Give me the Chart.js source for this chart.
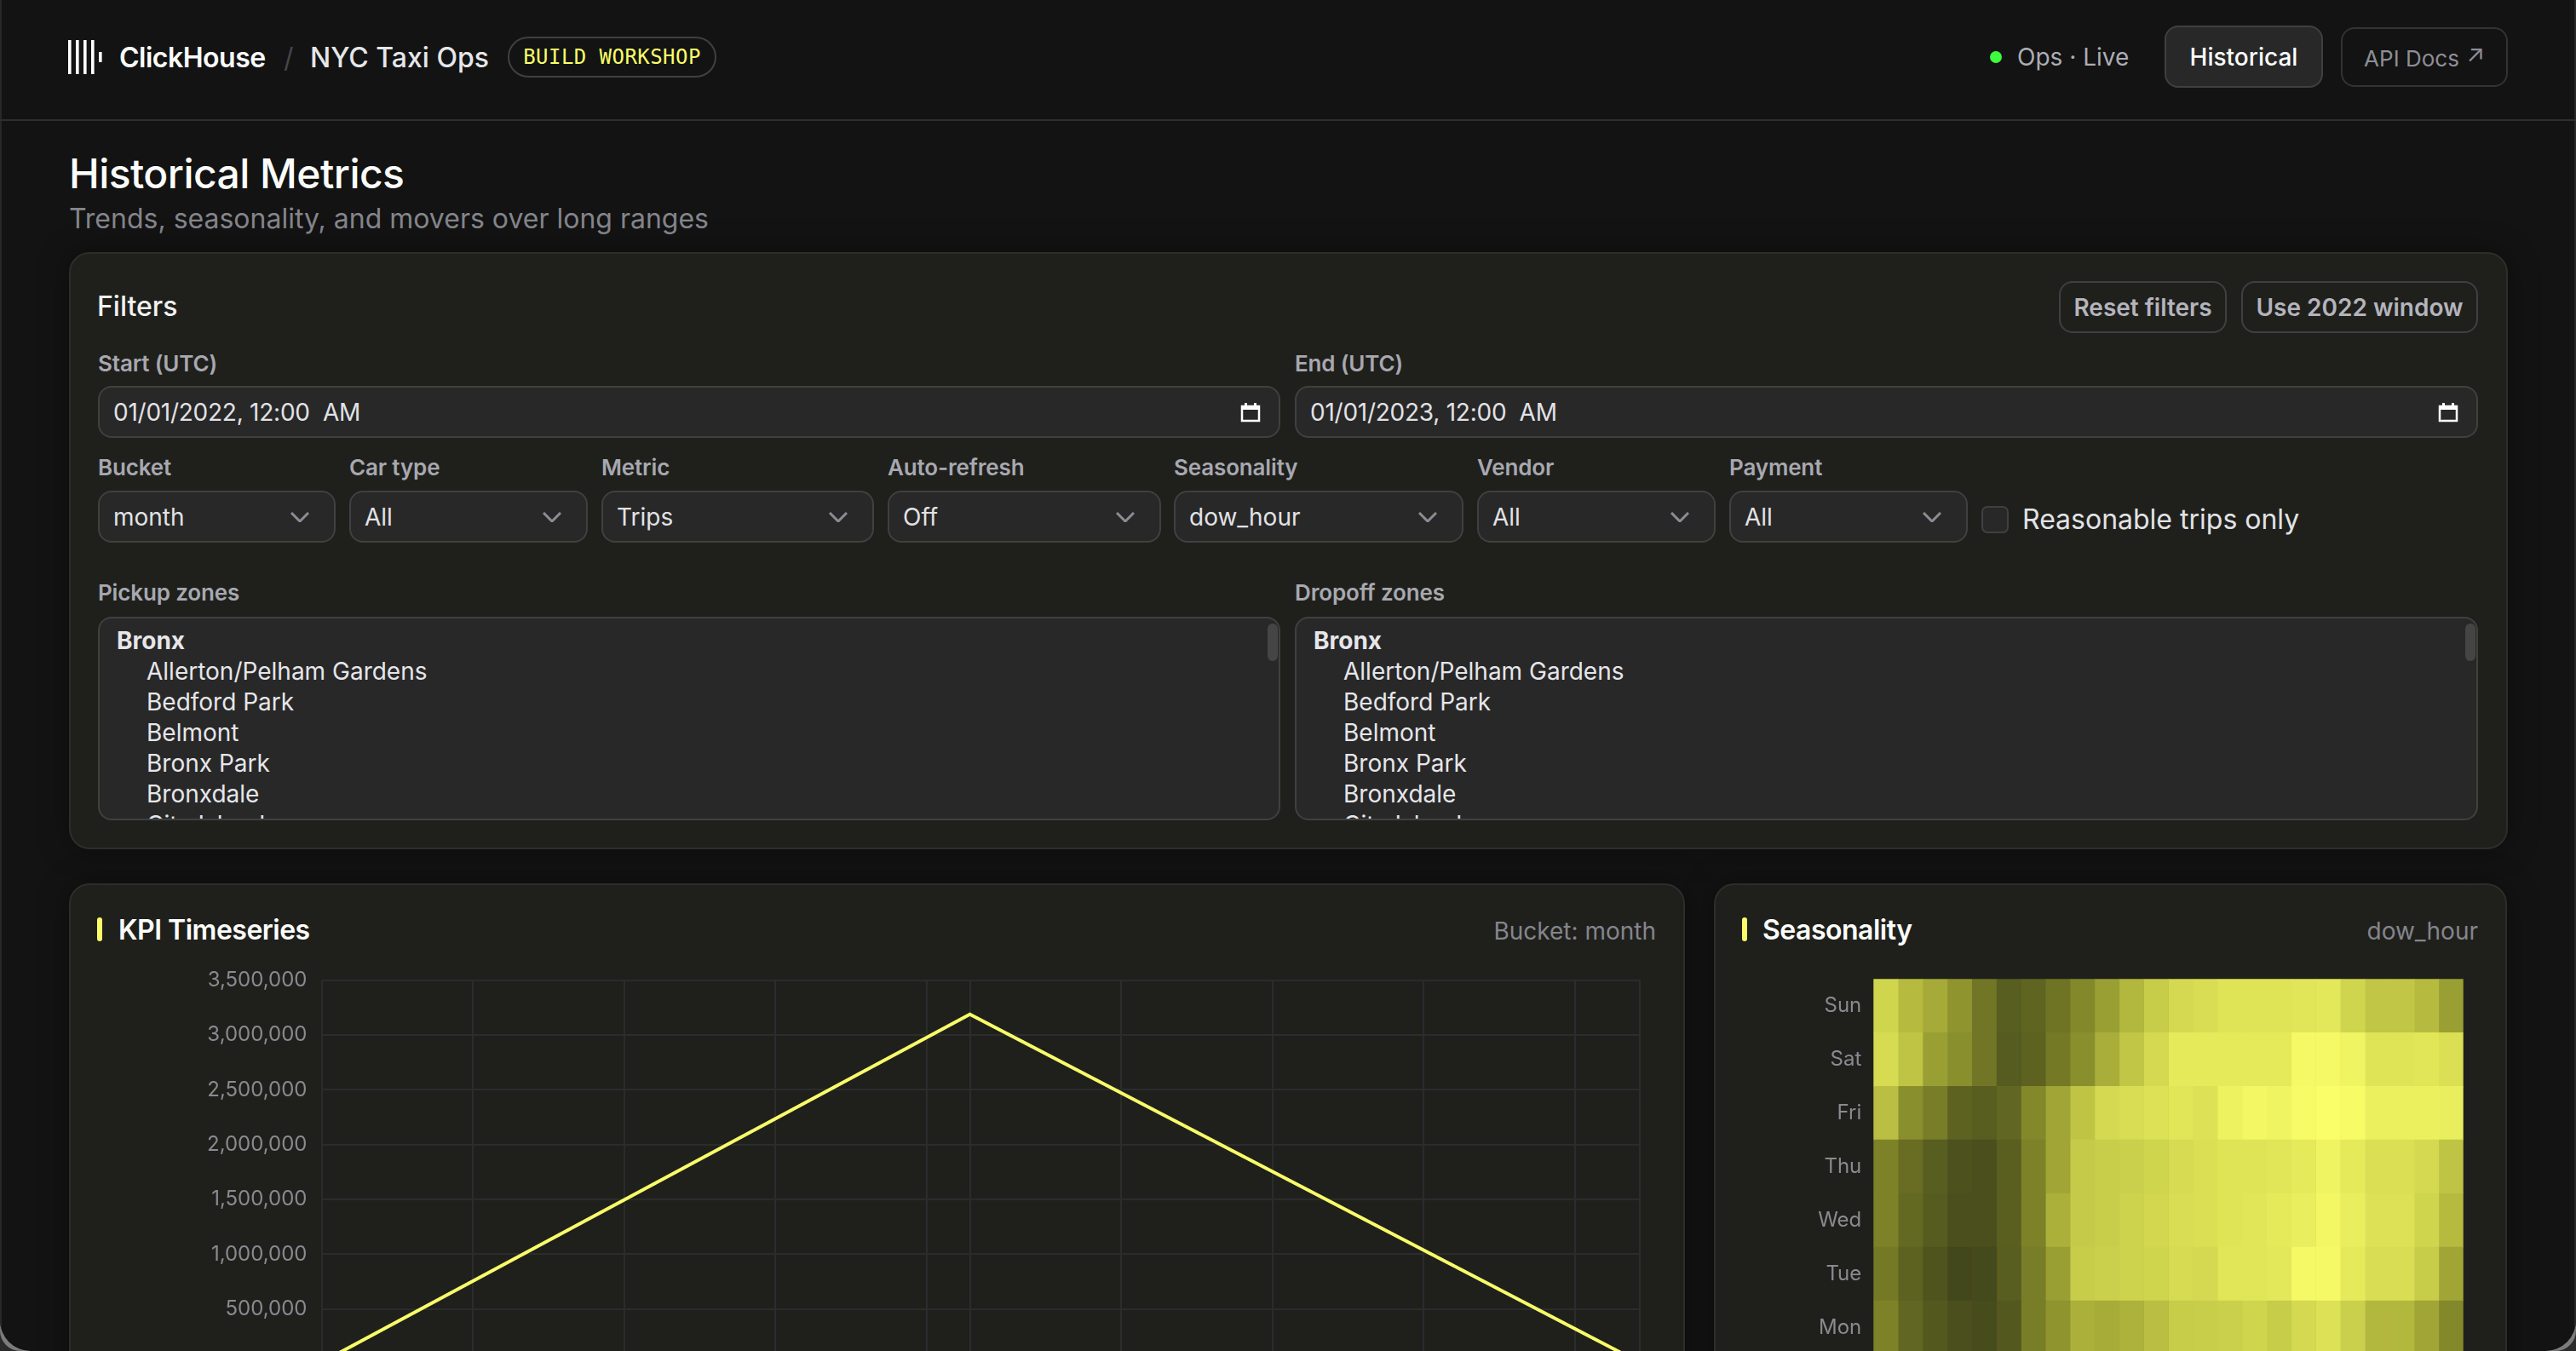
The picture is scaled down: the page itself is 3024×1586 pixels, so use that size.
<!DOCTYPE html>
<html lang="en">
<head>
<meta charset="utf-8">
<title>NYC Taxi Ops</title>
<script src="https://cdn.jsdelivr.net/npm/chart.js@4/dist/chart.umd.js"></script>
<style>
html,body{margin:0;padding:0;width:3024px;height:1586px;overflow:hidden;background:#2b2b2b;font-family:Inter,sans-serif}
#glow{position:absolute;left:0;top:0;width:3024px;height:1586px;background:#7c7c7c;border-radius:0 0 24px 24px}
#frame{position:absolute;left:0;top:0;width:3024px;height:1586px;background:#121312;border-radius:0 0 36px 36px;overflow:hidden}
#frame>*{position:absolute;box-sizing:border-box;white-space:nowrap}
.panel{background:#1f201c;border:2px solid #2d2e2b;border-radius:24px;box-shadow:0 0 36px rgba(0,0,0,.35)}
.lab{font-size:26px;font-weight:600;color:#a8a8b0;height:30px;line-height:30px;letter-spacing:-.15px}
.inp{background:#282828;border:2px solid #404040;border-radius:16px;color:#e2e2e6;font-size:28px;line-height:59px;padding-left:16px}
.btn{border:2px solid #404040;border-radius:16px;text-align:center;font-weight:500;font-size:28px;color:#b4b4bc}
.note{font-size:28px;color:#85858c;height:34px;line-height:34px}
.title{font-size:32px;font-weight:600;color:#fff;height:40px;line-height:40px;letter-spacing:-.5px}
.accent{background:#faff69;border-radius:3px;width:6px;height:28px}
.opt{font-size:28px;color:#e6e6ea;height:36px;line-height:36px}
.bar{width:12px;height:44px;border-radius:6px;background:#454545}
.list{background:#282828;border:2px solid #404040;border-radius:16px;overflow:hidden}
.list>*{position:absolute;white-space:nowrap}
svg{display:block}
</style>
</head>
<body>
<div id="glow"></div>
<div id="frame"></div>
<script>
// ---------- Chart data ----------
const kpiDates = ['2021-12-02', '2022-01-01', '2022-02-01'];
const kpiTrips = [14000, 3188000, 12000];
const kpiTickDates = ['2021-12-02','2021-12-09','2021-12-16','2021-12-23','2021-12-30','2022-01-01','2022-01-08','2022-01-15','2022-01-22','2022-01-29','2022-02-01'];
const kpiYMax = 3500000;
const kpiYStep = 500000;

const days = ['Sun','Sat','Fri','Thu','Wed','Tue','Mon'];
const hours = ['0','1','2','3','4','5','6','7','8','9','10','11','12','13','14','15','16','17','18','19','20','21','22','23'];
const sun = [.80,.68,.60,.50,.37,.26,.29,.36,.45,.55,.66,.76,.82,.84,.87,.87,.87,.88,.89,.80,.73,.73,.68,.55];
const sat = [.83,.72,.55,.48,.37,.25,.28,.38,.48,.62,.73,.82,.90,.90,.90,.90,.90,.97,.97,.95,.87,.87,.88,.85];
const fri = [.70,.48,.40,.28,.26,.30,.45,.58,.72,.82,.84,.86,.88,.86,.94,.96,.95,.98,1.0,.98,.93,.93,.93,.92];
const thu = [.42,.33,.26,.21,.20,.27,.42,.58,.75,.77,.78,.80,.83,.85,.87,.87,.88,.90,.95,.90,.85,.85,.82,.72];
const wed = [.42,.31,.25,.20,.20,.27,.42,.63,.75,.77,.79,.81,.84,.85,.87,.88,.90,.92,.96,.92,.86,.86,.80,.68];
const tue = [.38,.28,.22,.17,.18,.26,.40,.55,.76,.78,.79,.80,.83,.82,.88,.88,.89,.97,.97,.90,.84,.84,.76,.58];
const mon = [.42,.30,.24,.20,.19,.24,.40,.50,.63,.61,.64,.70,.76,.77,.78,.80,.76,.82,.86,.78,.66,.66,.58,.45];
const heatRows = [sun, sat, fri, thu, wed, tue, mon];

// ---------- Page text ----------
const pickupZones = ['Allerton/Pelham Gardens','Bedford Park','Belmont','Bronx Park','Bronxdale','City Island'];
const frame = document.getElementById('frame');
function el(cls, l, t, w, h, html, extra, parent) {
  const d = document.createElement('div');
  d.className = cls;
  d.style.left = l + 'px'; d.style.top = t + 'px';
  if (w != null) d.style.width = w + 'px';
  if (h != null) d.style.height = h + 'px';
  if (html != null) d.innerHTML = html;
  if (extra) d.style.cssText += ';' + extra;
  (parent || frame).appendChild(d);
  return d;
}
function text(l, cy, size, weight, color, str, extra) {
  const h = Math.round(size * 1.4);
  return el('', l, cy - h / 2, null, h, str, `font-size:${size}px;font-weight:${weight};color:${color};line-height:${h}px;` + (extra || ''));
}
// window edges and header
el('', 0, 0, 2, 1586, null, 'background:#282828');
el('', 3022, 0, 2, 1586, null, 'background:#282828');
el('', 0, 140, 3024, 2, null, 'background:#2e2e2e');
el('', 80, 47, 40, 40, '<svg width="40" height="40"><g fill="#fff"><rect x="0" y="0" width="3.6" height="40"/><rect x="9" y="0" width="3.6" height="40"/><rect x="18" y="0" width="3.6" height="40"/><rect x="27" y="0" width="3.6" height="40"/><rect x="36" y="14" width="3.6" height="12"/></g></svg>');
text(140, 67, 32, 600, '#ffffff', 'ClickHouse', 'letter-spacing:-.5px');
text(333, 67, 32, 400, '#45454a', '/');
text(364, 67, 32, 500, '#e6e6ea', 'NYC Taxi Ops');
el('', 596, 43, 245, 48, 'BUILD WORKSHOP', "border:2px solid #404040;border-radius:24px;text-align:center;line-height:44px;font-family:'DejaVu Sans Mono',monospace;font-size:24px;letter-spacing:.45px;color:#faff69");
el('', 2336, 60, 14, 14, null, 'background:#3dff3d;border-radius:50%');
text(2368, 67, 28, 400, '#adadb5', 'Ops · Live');
el('btn', 2541, 30, 186, 73, 'Historical', 'background:#282828;color:#fff;line-height:71px');
el('btn', 2748, 32, 196, 70, 'API Docs <span style="font-size:28px;position:relative;top:-5px;margin-left:1px">↗</span>', 'border-color:#333;color:#8e8e96;font-size:26px;font-weight:400;line-height:68px');
text(81, 203, 48, 500, '#ffffff', 'Historical Metrics', 'letter-spacing:-.55px');
text(81, 256, 32, 400, '#85858c', 'Trends, seasonality, and movers over long ranges');

// filters panel
el('panel', 81, 296, 2863, 701);
text(114, 359, 32, 500, '#f2f2f2', 'Filters');
el('btn', 2417, 330, 197, 61, 'Reset filters', 'line-height:59px;font-weight:600');
el('btn', 2631, 330, 278, 61, 'Use 2022 window', 'line-height:59px;font-weight:600');
el('lab', 115, 412, null, null, 'Start (UTC)');
el('lab', 1520, 412, null, null, 'End (UTC)');
const calIcon = '<svg width="24" height="24" viewBox="0 0 24 24"><path fill="none" stroke="#fff" stroke-width="2.5" d="M2 5h20v17H2z"/><path fill="#fff" d="M1 4h22v5H1zM5 1h3v4H5zM16 1h3v4h-3z"/></svg>';
el('inp', 115, 453, 1388, 61, '01/01/2022, 12:00&nbsp; AM', 'letter-spacing:-.25px');
el('inp', 1520, 453, 1389, 61, '01/01/2023, 12:00&nbsp; AM', 'letter-spacing:-.25px');
el('', 1456, 472, 24, 24, calIcon);
el('', 2862, 472, 24, 24, calIcon);
const chevron = '<svg width="22" height="12" viewBox="0 0 22 12"><path fill="none" stroke="#8c8c94" stroke-width="3" d="M1 1l10 10L21 1"/></svg>';
const selectLabels = ['Bucket','Car type','Metric','Auto-refresh','Seasonality','Vendor','Payment'];
const selectValues = ['month','All','Trips','Off','dow_hour','All','All'];
const selectLefts = [115,410,706,1042,1378,1734,2030];
const selectRights = [394,690,1026,1363,1718,2014,2310];
selectLabels.forEach((lab, i) => {
  el('lab', selectLefts[i], 534, null, null, lab);
  el('inp', selectLefts[i], 576, selectRights[i] - selectLefts[i], 61, selectValues[i]);
  el('', selectRights[i] - 53, 601, 22, 12, chevron);
});
el('', 2326, 594, 32, 32, null, 'background:#282828;border:2px solid #404040;border-radius:7px');
text(2374, 609, 32, 400, '#e2e2e6', 'Reasonable trips only');
el('lab', 115, 681, null, null, 'Pickup zones');
el('lab', 1520, 681, null, null, 'Dropoff zones');
[[115, 1388], [1520, 1389]].forEach(([l, w]) => {
  const box = el('list', l, 724, w, 239);
  el('opt', 20, 8, null, null, '<b>Bronx</b>', null, box);
  pickupZones.forEach((z, i) => el('opt', 55, 44 + i * 36, null, null, z, null, box));
  el('bar', w - 17, 6, null, null, null, null, box);
});

// KPI panel
el('panel', 81, 1037, 1897, 700);
el('accent', 114, 1077);
el('title', 139, 1072, null, null, 'KPI Timeseries');
el('note', null, 1076, null, null, 'Bucket: month', 'left:auto;right:1080px');
const kpiCanvas = document.createElement('canvas');
kpiCanvas.style.cssText = 'left:115px;top:1130px';
kpiCanvas.width = 1829; kpiCanvas.height = 523;
frame.appendChild(kpiCanvas);

// Seasonality panel
el('panel', 2012, 1037, 931, 700);
el('accent', 2045, 1077);
el('title', 2069, 1072, null, null, 'Seasonality');
el('note', null, 1076, null, null, 'dow_hour', 'left:auto;right:115px');
const heatCanvas = document.createElement('canvas');
heatCanvas.style.cssText = 'left:2046px;top:1130px';
heatCanvas.width = 863; heatCanvas.height = 520;
frame.appendChild(heatCanvas);

// ---------- Charts ----------
Chart.defaults.font.family = 'Inter, sans-serif';
Chart.defaults.devicePixelRatio = 1;
const ms = s => Date.parse(s + 'T00:00:00Z');
const monthNames = ['Jan','Feb','Mar','Apr','May','Jun','Jul','Aug','Sep','Oct','Nov','Dec'];
const gridColor = '#2b2c2b';
const tickColor = '#8a8a90';

new Chart(kpiCanvas, {
  type: 'line',
  data: {
    labels: kpiDates,
    datasets: [{
      label: 'Trips',
      data: kpiDates.map((d, i) => ({ x: ms(d), y: kpiTrips[i] })),
      borderColor: '#faff69',
      borderWidth: 4,
      pointRadius: 0,
      tension: 0,
      fill: false
    }]
  },
  options: {
    responsive: false,
    animation: false,
    layout: { padding: { top: 20.7, right: 19, bottom: 12, left: 0 } },
    plugins: { legend: { display: false }, tooltip: { enabled: false } },
    scales: {
      x: {
        type: 'linear',
        min: ms(kpiDates[0]),
        max: ms(kpiDates[kpiDates.length - 1]),
        grid: { color: gridColor, lineWidth: 2, drawTicks: false },
        border: { display: false },
        afterBuildTicks: s => { s.ticks = kpiTickDates.map(d => ({ value: ms(d) })); },
        afterFit: s => { s.height = 40; s.paddingLeft = 0; s.paddingRight = 0; },
        ticks: {
          autoSkip: false, maxRotation: 0, color: tickColor, font: { size: 24 },
          callback: v => { const d = new Date(v); return monthNames[d.getUTCMonth()] + ' ' + d.getUTCDate(); }
        }
      },
      y: {
        min: 0,
        max: kpiYMax,
        grid: { color: gridColor, lineWidth: 2, drawTicks: false },
        border: { display: false },
        afterFit: s => { s.width = 262.5; s.paddingTop = 0; s.paddingBottom = 0; },
        ticks: {
          stepSize: kpiYStep, color: tickColor, font: { size: 24 }, padding: 17,
          callback: v => v.toLocaleString('en-US')
        }
      }
    }
  }
});

// Intensity to colour: red and green ramp evenly, blue stays low until the top of the range.
const heatColor = v => {
  const t = Math.pow(v, 0.92);
  const r = 22 + t * 228, g = 27 + t * 228, b = 25 + t * t * 80;
  return `rgb(${Math.round(r)},${Math.round(g)},${Math.round(b)})`;
};

new Chart(heatCanvas, {
  type: 'bar',
  data: {
    labels: days,
    datasets: hours.map((h, hi) => ({
      label: h,
      data: days.map((d, di) => ({ x: [hi, hi + 1], y: d, v: heatRows[di][hi] })),
      backgroundColor: ctx => heatColor(ctx.raw.v),
      borderWidth: 0,
      barPercentage: 1,
      categoryPercentage: 1,
      grouped: false
    }))
  },
  options: {
    indexAxis: 'y',
    responsive: false,
    animation: false,
    layout: { padding: { top: 19.3, right: 17.3, bottom: 60, left: 0 } },
    plugins: { legend: { display: false }, tooltip: { enabled: false } },
    scales: {
      x: { type: 'linear', min: 0, max: 24, display: false },
      y: {
        type: 'category',
        grid: { display: false },
        border: { display: false },
        afterFit: s => { s.width = 153.3; s.paddingTop = 0; s.paddingBottom = 0; },
        ticks: { color: tickColor, font: { size: 24 }, padding: 6 }
      }
    }
  }
});
</script>
</body>
</html>
